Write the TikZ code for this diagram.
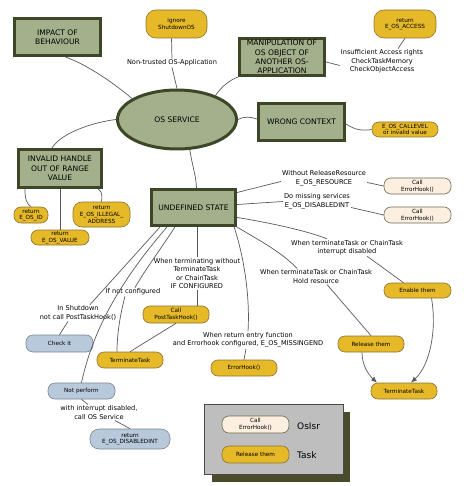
\documentclass[tikz,border=0pt]{standalone}
\usepackage{fontspec}
\setmainfont{DejaVu Sans}
\usetikzlibrary{arrows.meta,shapes.geometric}
\definecolor{sage}{HTML}{A4B08B}
\definecolor{boxline}{HTML}{3E4628}
\definecolor{yel}{HTML}{E6B928}
\definecolor{yelline}{HTML}{8B7432}
\definecolor{creamc}{HTML}{FCEFE0}
\definecolor{creamline}{HTML}{6B6B55}
\definecolor{bluc}{HTML}{B9C9DC}
\definecolor{bluline}{HTML}{7A8590}
\definecolor{leggray}{HTML}{BEBEBE}
\definecolor{legline}{HTML}{4A4A4A}
\definecolor{legshadow}{HTML}{4A4B2A}
\definecolor{conn}{HTML}{5A5A5A}
\begin{document}
\begin{tikzpicture}[x=1pt,y=-1pt,
  box/.style={draw=boxline,line width=3.2pt,fill=sage,inner sep=0pt,align=center,font=\fontsize{7.6}{9.3}\selectfont},
  boxtext/.style={inner sep=0pt,align=center,font=\fontsize{7.6}{9.3}\selectfont},
  yelbox/.style={draw=yelline,fill=yel,line width=0.6pt,rounded corners=7pt,inner sep=0pt,align=center,font=\fontsize{5.7}{6.6}\selectfont,minimum width=66pt,minimum height=16pt},
  creambox/.style={yelbox,draw=creamline,fill=creamc},
  blubox/.style={yelbox,draw=bluline,fill=bluc},
  lbl/.style={inner sep=1pt,align=center,font=\fontsize{6.6}{8.5}\selectfont},
  con/.style={draw=conn,line width=0.7pt},
  arr/.style={con,-{Latex[length=6pt,width=5pt]}}
]
\useasboundingbox[fill=white] (0,0) rectangle (463,486);

% ---- top area
\node[box,minimum width=85.8pt,minimum height=36.8pt] (impact) at (57.5,37) {IMPACT OF\\BEHAVIOUR};
\node[yelbox,minimum width=61pt,minimum height=28pt,rounded corners=10pt] (ignore) at (176.5,24) {ignore\\ShutdownOS};
\node[lbl] (ntrust) at (172,63) {Non-trusted OS-Application};
\node[draw=boxline,line width=3pt,fill=sage,ellipse,inner sep=0pt,minimum width=119pt,minimum height=59pt,font=\fontsize{7.6}{9}\selectfont] (svc) at (177,119.5) {OS SERVICE};
\node[box,minimum width=85pt,minimum height=37pt] (manip) at (282,57) {};
\node[boxtext] (maniptxt) at (282,57) {MANIPULATION OF\\OS OBJECT OF\\ANOTHER OS-\\APPLICATION};
\node[yelbox,minimum width=62pt,minimum height=28pt,rounded corners=10pt] (access) at (405,24) {return\\E\_OS\_ACCESS};
\node[lbl] (accl) at (382,61.5) {Insufficient Access rights\\CheckTaskMemory\\CheckObjectAccess};
\node[box,minimum width=86pt,minimum height=37pt] (wrong) at (301.5,122) {WRONG CONTEXT};
\node[yelbox,minimum width=66pt,minimum height=15pt] (callev) at (405,129.5) {E\_OS\_CALLEVEL\\or invalid value};

% ---- invalid handle
\node[box,minimum width=83pt,minimum height=38pt] (inv) at (60,168.5) {INVALID HANDLE\\OUT OF RANGE\\VALUE};
\node[yelbox,minimum width=34pt,minimum height=16pt] (osid) at (31,215) {return\\E\_OS\_ID};
\node[yelbox,minimum width=58pt,minimum height=15pt] (osval) at (60,237.5) {return\\E\_OS\_VALUE};
\node[yelbox,minimum width=57pt,minimum height=25pt,rounded corners=9pt] (illeg) at (101.5,214.5) {return\\E\_OS\_ILLEGAL\_\\ADDRESS};

% ---- undefined state
\node[box,minimum width=84pt,minimum height=36pt] (undef) at (193.5,207.5) {UNDEFINED STATE};
\node[lbl] (lblres) at (324,178.5) {Without ReleaseResource\\E\_OS\_RESOURCE};
\node[creambox,minimum width=67pt] (eh1) at (417.5,186) {Call\\ErrorHook()};
\node[lbl] (lbldis) at (317,201.5) {Do missing services\\E\_OS\_DISABLEDINT};
\node[creambox,minimum width=67pt] (eh2) at (417.5,215) {Call\\ErrorHook()};
\node[lbl] (lblintdis) at (347,247.5) {When terminateTask or ChainTask\\interrupt disabled};
\node[yelbox,minimum width=67pt,minimum height=15pt] (enable) at (417.5,290.5) {Enable them};
\node[lbl] (lblhold) at (316,276.5) {When terminateTask or ChainTask\\Hold resource};
\node[yelbox] (release) at (371,344) {Release them};
\node[yelbox] (term2) at (404,391) {TerminateTask};
\node[lbl] (lblwithout) at (197,273.5) {When terminating without\\TerminateTask\\or ChainTask\\IF CONFIGURED};
\node[yelbox,minimum height=17pt] (posthook) at (176,314.5) {Call\\PostTaskHook()};
\node[yelbox] (term1) at (130,360) {TerminateTask};
\node[lbl] (lblmiss) at (248,340) {When return entry function\\and Errorhook configured, E\_OS\_MISSINGEND};
\node[yelbox] (errhook) at (244,368) {ErrorHook()};
\node[lbl] (lblshut) at (78,313) {In Shutdown\\not call PostTaskHook()};
\node[blubox,minimum width=67pt,minimum height=17pt] (checkit) at (59.5,343.5) {Check it};
\node[lbl] (lblnotconf) at (133,292) {If not configured};
\node[blubox,minimum width=67pt] (notperf) at (81.5,391) {Not perform};
\node[lbl] (lblintos) at (99,412.5) {with interrupt disabled,\\call OS Service};
\node[blubox,minimum width=80pt,minimum height=20pt,rounded corners=9pt] (disint) at (130,439) {return\\E\_OS\_DISABLEDINT};

% ---- connectors
\draw[con] ([xshift=8pt]impact.south) .. controls (85,64) and (110,80) .. (svc.155);
\draw[con] ([xshift=-5pt]ignore.south) -- (ntrust.north);
\draw[con] (ntrust.south) -- (svc.north);
\draw[con] (svc.32) .. controls (222,86) and (230,80) .. (manip.south west);
\draw[con] ([yshift=-5pt]manip.east) -- ([yshift=-4pt]accl.west);
\draw[con] ([xshift=16pt]accl.north) -- (access.south);
\draw[con] (svc.east) .. controls (245,116) and (251,117) .. ([yshift=3pt]wrong.west);
\draw[con] ([yshift=-2pt]wrong.east) .. controls (355,130) and (362,131) .. (callev.west);
\draw[con] (svc.west) .. controls (95,122) and (62,132) .. ([xshift=-8pt]inv.north);
\draw[con] ([xshift=8pt]inv.south west) .. controls (25,200) and (27,204) .. (osid.north);
\draw[con] (inv.south) -- (osval.north);
\draw[con] ([xshift=-5pt]inv.south east) .. controls (103,192) and (102,197) .. (illeg.north);
\draw[con] (svc.-67) .. controls (192,165) and (196,175) .. ([xshift=3pt]undef.north);

\draw[con] ([yshift=15pt]undef.east) -- ([yshift=-3pt]lblres.west);
\draw[con] ([yshift=-4pt]lblres.east) -- (eh1.west);
\draw[con] ([yshift=3pt]undef.east) -- (lbldis.west);
\draw[con] ([yshift=-6pt]lbldis.east) -- (eh2.west);
\draw[con] ([yshift=-10pt]undef.east) .. controls (265,222) and (305,230) .. ([xshift=-20pt]lblintdis.north);
\draw[con] ([xshift=20pt]lblintdis.south) -- ([xshift=-14pt]enable.north);
\draw[con] (undef.south east) .. controls (255,238) and (282,252) .. ([xshift=-19pt]lblhold.north);
\draw[con] ([xshift=11pt]lblhold.south) -- (release.north);
\draw[arr] ([xshift=-9pt]release.south) .. controls (362,365) and (368,374) .. ([xshift=-27pt]term2.north);
\draw[arr] ([xshift=14pt]enable.south) .. controls (437,330) and (430,365) .. ([xshift=7pt]term2.north);
\draw[con] ([xshift=-3pt]undef.south east) .. controls (245,260) and (250,300) .. (lblmiss.north);
\draw[con] ([xshift=-2pt]lblmiss.south) -- (errhook.north);
\draw[con] ([xshift=3.5pt]undef.south) -- (lblwithout.north);
\draw[con] (lblwithout.south) -- ([xshift=21pt]posthook.north);
\draw[con] (posthook.south) -- (term1.north);
\draw[con] ([xshift=10pt]undef.south west) -- ([xshift=12pt]lblshut.north);
\draw[con] ([xshift=-10pt]lblshut.south) -- (checkit.north);
\draw[con] ([xshift=17pt]undef.south west) .. controls (130,270) and (95,320) .. (notperf.north);
\draw[con] ([xshift=25pt]undef.south west) .. controls (160,250) and (145,270) .. ([xshift=2pt]lblnotconf.north);
\draw[con] ([xshift=-8pt]lblnotconf.south) .. controls (120,315) and (117,335) .. ([xshift=-13pt]term1.north);
\draw[con] (notperf.south) -- ([xshift=-11pt]lblintos.north);
\draw[con] ([xshift=16pt]lblintos.south) -- (disint.north);

% ---- legend
\fill[legshadow] (212,412) rectangle (350,482);
\draw[draw=legline,fill=leggray,line width=0.8pt] (204,404) rectangle (343,474);
\node[creambox,minimum width=67pt,minimum height=17pt] (leg1) at (255.5,424.5) {Call\\ErrorHook()};
\node[inner sep=0pt,anchor=west,font=\fontsize{9}{10}\selectfont] (leg1t) at (297,426) {OsIsr};
\node[yelbox,minimum width=67pt,minimum height=17pt] (leg2) at (255.5,454.5) {Release them};
\node[inner sep=0pt,anchor=west,font=\fontsize{9}{10}\selectfont] (leg2t) at (297,455) {Task};
\end{tikzpicture}
\end{document}
